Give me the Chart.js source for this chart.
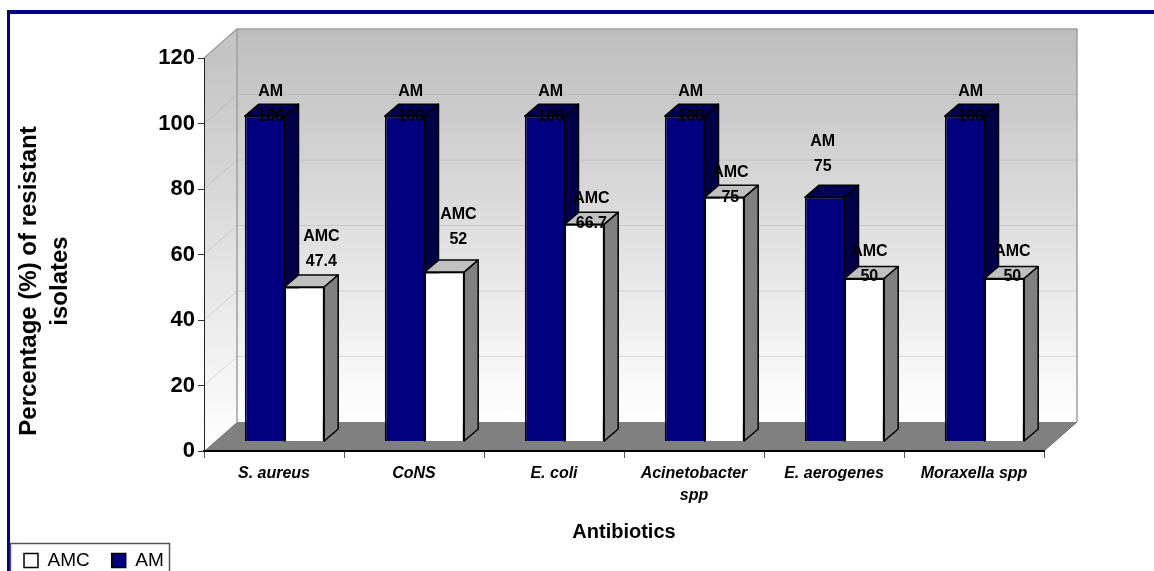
<!DOCTYPE html>
<html>
<head>
<meta charset="utf-8">
<title>Resistant isolates</title>
<script src="https://cdn.jsdelivr.net/npm/chart.js@4/dist/chart.umd.min.js"></script>
<style>
  html, body { margin: 0; padding: 0; background: #fff; overflow: hidden; }
  #frame { position: absolute; left: 7px; top: 10px; right: 0; bottom: 0; border-left: 3px solid #000088; border-top: 4px solid #000088; }
  #chart { position: absolute; left: 0; top: 0; }
</style>
</head>
<body>
<div id="frame"></div>
<canvas id="chart" width="1154" height="571"></canvas>
<script>
(function () {

  'use strict';

  var categories = [
    'S. aureus', 'CoNS', 'E. coli', ['Acinetobacter', 'spp'], 'E. aerogenes', 'Moraxella spp'
  ];
  var amValues = [100, 100, 100, 100, 75, 100];
  var amcValues = [47.4, 52, 66.7, 75, 50, 50];
  var yTicks = [0, 20, 40, 60, 80, 100, 120];

  // How far each data label sits above and right of its bar, as placed in the original.
  var amLabelLift = [0, 0, 0, 0, 31, 0];
  var amcLabelLift = [25, 32, 1, 0, 2, 2];
  var amLabelShift = [6, 6, 6, 6, -2, 6];
  var amcLabelShift = [17, 14, 7, 6, 5, 8];

  var SANS = '"Liberation Sans", Arial, sans-serif';

  // Fake 3D: back wall offset, bar depth, and the bars' shift into the box.
  var WALL_DX = 33;
  var WALL_DY = 29;
  var BAR_DX = 14;
  var BAR_DY = 12;
  var BAR_SHIFT = 10.5;

  var faceColors = [
    { top: '#000055', side: '#000048' },
    { top: '#c0c0c0', side: '#808080' }
  ];

  function polygon(ctx, points, fill, stroke, width) {
    ctx.beginPath();
    ctx.moveTo(points[0][0], points[0][1]);
    for (var i = 1; i < points.length; i++) {
      ctx.lineTo(points[i][0], points[i][1]);
    }
    ctx.closePath();
    ctx.fillStyle = fill;
    ctx.fill();
    if (stroke) {
      ctx.strokeStyle = stroke;
      ctx.lineWidth = width;
      ctx.lineJoin = 'round';
      ctx.stroke();
    }
  }

  var box3d = {
    id: 'box3d',

    // Walls and floor, under the axes.
    beforeDraw: function (chart) {
      var ctx = chart.ctx;
      var a = chart.chartArea;
      var y = chart.scales.y;

      var backFill = ctx.createLinearGradient(0, a.top - WALL_DY, 0, a.bottom - WALL_DY);
      backFill.addColorStop(0, '#bdbdbd');
      backFill.addColorStop(1, '#ffffff');
      var sideFill = ctx.createLinearGradient(0, a.top, 0, a.bottom);
      sideFill.addColorStop(0, '#c4c4c4');
      sideFill.addColorStop(1, '#ffffff');

      polygon(ctx, [
        [a.left, a.top], [a.left + WALL_DX, a.top - WALL_DY],
        [a.left + WALL_DX, a.bottom - WALL_DY], [a.left, a.bottom]
      ], sideFill);
      polygon(ctx, [
        [a.left + WALL_DX, a.top - WALL_DY], [a.right + WALL_DX, a.top - WALL_DY],
        [a.right + WALL_DX, a.bottom - WALL_DY], [a.left + WALL_DX, a.bottom - WALL_DY]
      ], backFill);

      // Gridlines run along the left wall, then across the back.
      ctx.strokeStyle = 'rgba(140, 140, 140, 0.25)';
      ctx.lineWidth = 1;
      yTicks.forEach(function (tick) {
        if (tick === 0 || tick === 120) {
          return;
        }
        var py = y.getPixelForValue(tick);
        ctx.beginPath();
        ctx.moveTo(a.left, py);
        ctx.lineTo(a.left + WALL_DX, py - WALL_DY);
        ctx.lineTo(a.right + WALL_DX, py - WALL_DY);
        ctx.stroke();
      });

      // Wall edges.
      ctx.strokeStyle = '#a0a0a0';
      ctx.lineWidth = 1.5;
      ctx.beginPath();
      ctx.moveTo(a.left, a.top);
      ctx.lineTo(a.left + WALL_DX, a.top - WALL_DY);
      ctx.lineTo(a.right + WALL_DX, a.top - WALL_DY);
      ctx.lineTo(a.right + WALL_DX, a.bottom - WALL_DY);
      ctx.moveTo(a.left + WALL_DX, a.top - WALL_DY);
      ctx.lineTo(a.left + WALL_DX, a.bottom - WALL_DY);
      ctx.stroke();

      polygon(ctx, [
        [a.left, a.bottom], [a.left + WALL_DX, a.bottom - WALL_DY],
        [a.right + WALL_DX, a.bottom - WALL_DY], [a.right, a.bottom]
      ], '#808080');

      ctx.beginPath();
      ctx.moveTo(a.right, a.bottom);
      ctx.lineTo(a.right + WALL_DX, a.bottom - WALL_DY);
      ctx.strokeStyle = '#707070';
      ctx.lineWidth = 1;
      ctx.stroke();
    },

    // Top and side faces go under the library's bars, AM before AMC.
    beforeDatasetsDraw: function (chart) {
      var ctx = chart.ctx;
      ctx.save();
      ctx.translate(BAR_SHIFT, 0);
      chart.data.datasets.forEach(function (ds, d) {
        chart.getDatasetMeta(d).data.forEach(function (bar) {
          var half = bar.width / 2;
          var l = bar.x - half;
          var r = bar.x + half;
          polygon(ctx, [
            [l, bar.y], [l + BAR_DX, bar.y - BAR_DY], [r + BAR_DX, bar.y - BAR_DY], [r, bar.y]
          ], faceColors[d].top, '#000', 1.5);
          polygon(ctx, [
            [r, bar.y], [r + BAR_DX, bar.y - BAR_DY], [r + BAR_DX, bar.base - BAR_DY], [r, bar.base]
          ], faceColors[d].side, '#000', 1.5);
        });
      });
    },

    afterDatasetsDraw: function (chart) {
      var ctx = chart.ctx;
      ctx.restore();

      // Data labels.
      var lifts = [amLabelLift, amcLabelLift];
      var shifts = [amLabelShift, amcLabelShift];
      ctx.save();
      ctx.font = 'bold 16px ' + SANS;
      ctx.fillStyle = '#000';
      ctx.textAlign = 'center';
      ctx.textBaseline = 'middle';
      chart.data.datasets.forEach(function (ds, d) {
        chart.getDatasetMeta(d).data.forEach(function (bar, i) {
          var cx = bar.x + BAR_SHIFT + shifts[d][i];
          var cy = bar.y - lifts[d][i];
          ctx.fillText(ds.label, cx, cy - 25);
          ctx.fillText(String(ds.data[i]), cx, cy);
        });
      });
      ctx.restore();
    },

    afterDraw: function (chart) {
      var ctx = chart.ctx;

      // The value axis title sits lower than the axis centre, so it is placed by hand.
      ctx.save();
      ctx.translate(29, 281);
      ctx.rotate(-Math.PI / 2);
      ctx.font = 'bold 24px ' + SANS;
      ctx.fillStyle = '#000';
      ctx.textAlign = 'center';
      ctx.textBaseline = 'middle';
      ctx.fillText('Percentage (%) of resistant', 0, 0);
      ctx.fillText('isolates', 0, 31);
      ctx.restore();

      // Legend box.
      ctx.strokeStyle = '#555';
      ctx.lineWidth = 1.5;
      ctx.strokeRect(10.5, 543.5, 159, 40);
    }
  };

  new Chart(document.getElementById('chart'), {
    type: 'bar',
    plugins: [box3d],
    data: {
      labels: categories,
      datasets: [
        { label: 'AM', data: amValues, yAxisID: 'yBars', backgroundColor: '#000080', borderColor: '#000', borderWidth: 1.5 },
        { label: 'AMC', data: amcValues, yAxisID: 'yBars', backgroundColor: '#ffffff', borderColor: '#000', borderWidth: 1.5 }
      ]
    },
    options: {
      responsive: false,
      animation: false,
      layout: { padding: { left: 2, top: 58, right: 110, bottom: -9 } },
      categoryPercentage: 0.567,
      barPercentage: 1,
      plugins: {
        tooltip: { enabled: false },
        title: { display: false },
        legend: {
          position: 'bottom',
          align: 'start',
          reverse: true,
          labels: {
            font: { family: SANS, size: 19 },
            color: '#000',
            boxWidth: 14,
            boxHeight: 14,
            padding: 22
          }
        }
      },
      scales: {
        x: {
          grid: { drawOnChartArea: false, tickLength: 7, color: '#555' },
          border: { color: '#000', width: 2 },
          ticks: {
            color: '#000',
            padding: 4,
            maxRotation: 0,
            autoSkip: false,
            font: { family: SANS, size: 16, style: 'italic', weight: 'bold', lineHeight: 1.4 }
          },
          title: {
            display: true,
            text: 'Antibiotics',
            color: '#000',
            padding: { top: 0, bottom: -15 },
            font: { family: SANS, size: 20, weight: 'bold' }
          },
          afterFit: function (scale) {
            scale.height = 78;
          }
        },
        y: {
          min: 0,
          max: 120,
          grid: { drawOnChartArea: false, tickLength: 6, color: '#333' },
          border: { color: '#222', width: 1 },
          ticks: {
            color: '#000',
            stepSize: 20,
            padding: 3,
            font: { family: SANS, size: 22, weight: 'bold' }
          },
          afterFit: function (scale) {
            scale.width = 202;
          }
        },
        // Bars stand inside the box, so their base and scale differ a little from the front axis.
        yBars: {
          display: false,
          min: -3.09,
          max: 117.9
        }
      }
    }
  });
})();
</script>
</body>
</html>
